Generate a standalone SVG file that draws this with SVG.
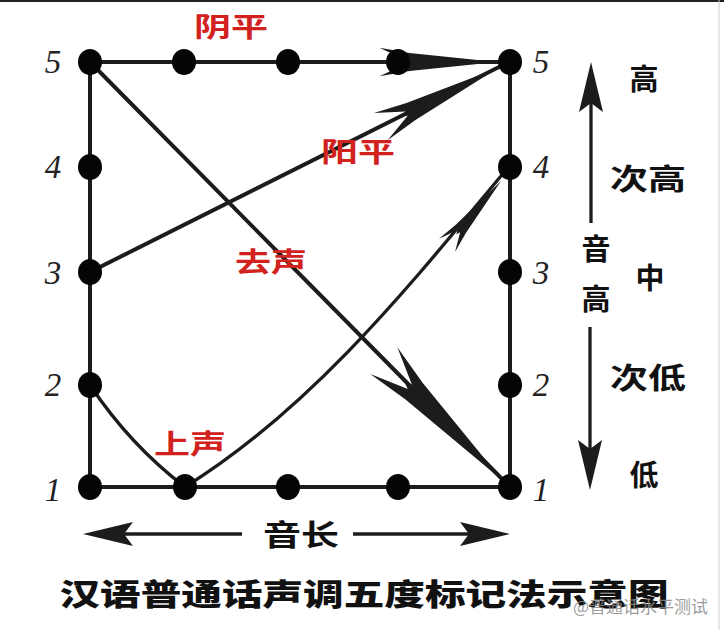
<svg xmlns="http://www.w3.org/2000/svg" width="724" height="630" viewBox="0 0 724 630">
<defs>
<path id="head" d="M0,0 L-125,-12 L-168,-19 L-131,-3 L-139,0 L-131,3 L-168,19 L-125,12 Z"/>
<path id="shead" d="M0,0 L-50,-12 L-41,0 L-50,12 Z"/>
</defs>
<style>
.ln{stroke:#1c1c1c;stroke-width:4;fill:none;stroke-linecap:round}
.thin{stroke:#1c1c1c;stroke-width:3.3;fill:none}
.hd{fill:#1c1c1c}
.dot{fill:#050505}
.num{font-family:"Liberation Serif",serif;font-style:italic;font-size:33px;fill:#222;text-anchor:middle;dominant-baseline:central}
.lab{font-family:"Noto Sans CJK SC",sans-serif;font-size:29px;font-weight:bold;fill:#111;text-anchor:middle;dominant-baseline:central}
.red{font-family:"Noto Sans CJK SC",sans-serif;font-size:27px;font-weight:bold;fill:#d1221e;text-anchor:middle;dominant-baseline:central}
.title{font-family:"Noto Sans CJK SC",sans-serif;font-size:30px;font-weight:900;fill:#111;text-anchor:middle;dominant-baseline:central}
.wm{font-family:"Noto Sans CJK SC",sans-serif;font-size:17px;fill:#8a8a8a;fill-opacity:0.85;dominant-baseline:central}
</style>
<rect width="724" height="630" fill="#fff"/>
<line x1="0" y1="1" x2="724" y2="1" stroke="#222" stroke-width="2"/>
<line x1="719" y1="0" x2="719" y2="630" stroke="#ccc" stroke-width="1"/>

<g id="connectors">
  <line class="ln" x1="90" y1="62" x2="90" y2="487"/>
  <line class="ln" x1="510" y1="62" x2="510" y2="487"/>
  <line class="ln" x1="90" y1="487" x2="510" y2="487"/>
  <line class="ln" x1="90" y1="62" x2="505" y2="62"/>
  <use href="#head" class="hd" transform="translate(497,62) scale(0.7,0.75)"/>
  <line class="ln" x1="90" y1="272" x2="505" y2="64"/>
  <use href="#head" class="hd" transform="translate(498,68) rotate(-26.57) scale(0.78,0.8)"/>
  <line class="ln" x1="90" y1="62" x2="506" y2="483"/>
  <use href="#head" class="hd" transform="translate(502,480) rotate(45.3)"/>
  <path class="thin" d="M90,385 Q130,445 185,487 C315,406 415,279 506,170"/>
  <use href="#head" class="hd" transform="translate(501,181) rotate(-50) scale(0.5,0.55)"/>
  <line class="thin" x1="591" y1="223" x2="591" y2="100"/>
  <use href="#shead" class="hd" transform="translate(591,62) rotate(-90)"/>
  <line class="thin" x1="590" y1="327" x2="590" y2="450"/>
  <use href="#shead" class="hd" transform="translate(590,490) rotate(90)"/>
  <line class="thin" x1="242" y1="534" x2="120" y2="534"/>
  <use href="#shead" class="hd" transform="translate(83,534) rotate(180)"/>
  <line class="thin" x1="353" y1="534" x2="475" y2="534"/>
  <use href="#shead" class="hd" transform="translate(510,534)"/>
</g>

<g id="dots-left">
  <g id="L5"><ellipse class="dot" cx="90" cy="62" rx="12" ry="13"/></g>
  <g id="L4"><ellipse class="dot" cx="90" cy="167" rx="12" ry="13"/></g>
  <g id="L3"><ellipse class="dot" cx="90" cy="272" rx="12" ry="13"/></g>
  <g id="L2"><ellipse class="dot" cx="90" cy="385" rx="12" ry="13"/></g>
  <g id="L1"><ellipse class="dot" cx="90" cy="487" rx="12" ry="13"/></g>
</g>
<g id="dots-right">
  <g id="R5"><ellipse class="dot" cx="510" cy="62" rx="12" ry="13"/></g>
  <g id="R4"><ellipse class="dot" cx="510" cy="167" rx="12" ry="13"/></g>
  <g id="R3"><ellipse class="dot" cx="510" cy="272" rx="12" ry="13"/></g>
  <g id="R2"><ellipse class="dot" cx="510" cy="385" rx="12" ry="13"/></g>
  <g id="R1"><ellipse class="dot" cx="510" cy="487" rx="12" ry="13"/></g>
</g>
<g id="dots-top">
  <g id="T2"><ellipse class="dot" cx="184" cy="62" rx="12" ry="13"/></g>
  <g id="T3"><ellipse class="dot" cx="288" cy="62" rx="12" ry="13"/></g>
  <g id="T4"><ellipse class="dot" cx="398" cy="62" rx="12" ry="13"/></g>
</g>
<g id="dots-bottom">
  <g id="B2"><ellipse class="dot" cx="185" cy="487" rx="12" ry="13"/></g>
  <g id="B3"><ellipse class="dot" cx="288" cy="487" rx="12" ry="13"/></g>
  <g id="B4"><ellipse class="dot" cx="398" cy="487" rx="12" ry="13"/></g>
</g>

<g id="numbers-left">
  <text class="num" x="53" y="62">5</text>
  <text class="num" x="53" y="167">4</text>
  <text class="num" x="53" y="273">3</text>
  <text class="num" x="53" y="385">2</text>
  <text class="num" x="53" y="490">1</text>
</g>
<g id="numbers-right">
  <text class="num" x="541" y="62">5</text>
  <text class="num" x="541" y="167">4</text>
  <text class="num" x="541" y="273">3</text>
  <text class="num" x="541" y="385">2</text>
  <text class="num" x="541" y="490">1</text>
</g>

<g id="tone-labels">
  <text class="red" x="231" y="25" textLength="74" lengthAdjust="spacingAndGlyphs">阴平</text>
  <text class="red" x="358" y="150" textLength="74" lengthAdjust="spacingAndGlyphs">阳平</text>
  <text class="red" x="271" y="260" textLength="72" lengthAdjust="spacingAndGlyphs">去声</text>
  <text class="red" x="190" y="442" textLength="72" lengthAdjust="spacingAndGlyphs">上声</text>
</g>

<g id="pitch-labels">
  <text class="lab" x="644" y="77">高</text>
  <text class="lab" x="648" y="177" textLength="76" lengthAdjust="spacingAndGlyphs">次高</text>
  <text class="lab" x="650" y="276">中</text>
  <text class="lab" x="648" y="376" textLength="76" lengthAdjust="spacingAndGlyphs">次低</text>
  <text class="lab" x="644" y="473">低</text>
  <text class="lab" x="596" y="247">音</text>
  <text class="lab" x="596" y="297">高</text>
</g>

<g id="length-label">
  <text class="lab" x="301" y="533" textLength="76" lengthAdjust="spacingAndGlyphs">音长</text>
</g>

<g id="title">
  <text class="title" x="364" y="592" textLength="609" lengthAdjust="spacingAndGlyphs">汉语普通话声调五度标记法示意图</text>
  <text class="wm" x="573" y="605">@普通话水平测试</text>
</g>
</svg>
